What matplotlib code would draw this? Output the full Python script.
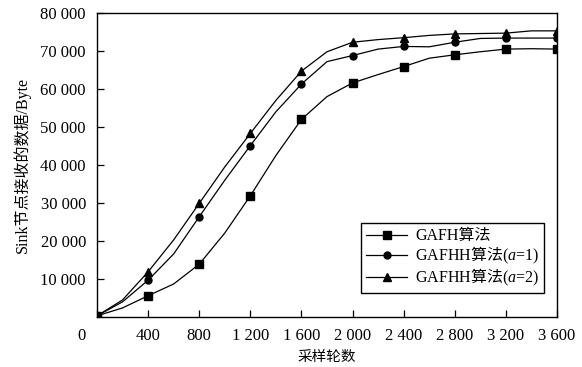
import matplotlib.pyplot as plt
import matplotlib.transforms as mtransforms
import numpy as np

plt.rcParams['font.family'] = ['Liberation Serif', 'Noto Sans CJK SC']
plt.rcParams['mathtext.fontset'] = 'custom'
plt.rcParams['mathtext.rm'] = 'Noto Sans CJK SC'
plt.rcParams['mathtext.it'] = 'Liberation Serif:italic'

# 采样轮数 (每200轮一个数据点)
rounds = np.arange(0, 3601, 200)

gafh = [300, 2400, 5600, 8700, 13900, 22100, 31900, 42500, 52000, 58000,
        61600, 63800, 65900, 68100, 69000, 69800, 70500, 70600, 70500]
gafhh_a1 = [300, 4000, 9700, 16600, 26400, 36000, 45100, 54000, 61300, 67200,
            68800, 70500, 71200, 71100, 72300, 73300, 73400, 73400, 73400]
gafhh_a2 = [300, 4500, 11900, 20300, 29900, 39500, 48300, 57000, 64700, 69800,
            72300, 73000, 73500, 74100, 74500, 74600, 74700, 75300, 75300]

xticks = np.arange(0, 3601, 400)
xtick_labels = ['0', '400', '800', '1 200', '1 600', '2 000', '2 400', '2 800', '3 200', '3 600']
yticks = np.arange(10000, 80001, 10000)
ytick_labels = ['10 000', '20 000', '30 000', '40 000', '50 000', '60 000', '70 000', '80 000']

fig = plt.figure(figsize=(5.82, 3.67), dpi=100)
ax = fig.add_axes([0.1667, 0.1362, 0.7903, 0.8284])

ax.plot(rounds, gafh, color='black', lw=0.9, marker='s', markersize=6, markevery=2,
        label='GAFH算法')
ax.plot(rounds, gafhh_a1, color='black', lw=0.9, marker='o', markersize=5, markevery=2,
        label=r'GAFHH$\mathrm{算法}$($a$=1)')
ax.plot(rounds, gafhh_a2, color='black', lw=0.9, marker='^', markersize=6, markevery=2,
        label=r'GAFHH$\mathrm{算法}$($a$=2)')

ax.set_xlim(0, 3600)
ax.set_ylim(0, 80000)
ax.set_xticks(xticks)
ax.set_xticklabels(xtick_labels)
ax.set_yticks(yticks)
ax.set_yticklabels(ytick_labels)
ax.tick_params(direction='in', length=5, width=0.9, labelsize=12, pad=8, colors='black')
for s in ax.spines.values():
    s.set_linewidth(1.0)

# "0" 标签在原图中偏左
zero_lbl = ax.xaxis.get_major_ticks()[0].label1
zero_lbl.set_transform(zero_lbl.get_transform() +
                       mtransforms.ScaledTranslation(-0.16, 0, fig.dpi_scale_trans))

ax.set_xlabel('采样轮数', fontsize=10.5, labelpad=5)
ax.set_ylabel('Sink节点接收的数据/Byte', fontsize=11.5, labelpad=7)

leg = ax.legend(loc='lower right', bbox_to_anchor=(0.972, 0.079), borderaxespad=0,
                fancybox=False, edgecolor='black', framealpha=1, fontsize=11.5,
                handlelength=2.6, labelspacing=0.05, borderpad=0.3, handletextpad=0.5)
leg.get_frame().set_linewidth(1.0)

plt.savefig('out.png', dpi=100)
